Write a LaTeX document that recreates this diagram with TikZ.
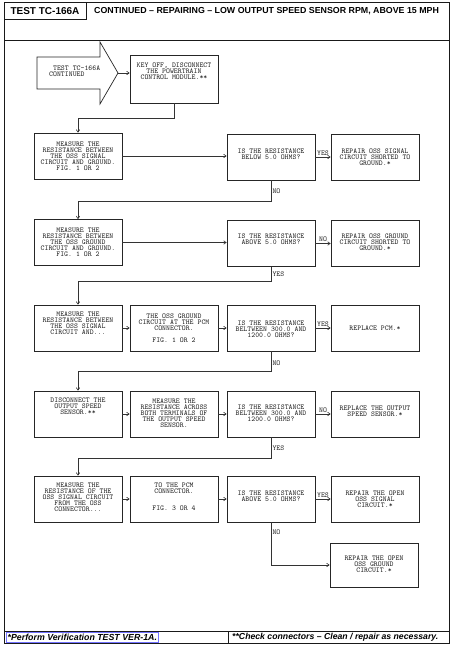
\documentclass[tikz,border=0pt]{standalone}
\usepackage{fontspec}
\setmainfont{Liberation Sans}
\usetikzlibrary{arrows.meta,calc}
\begin{document}
\begin{tikzpicture}[x=1pt,y=-1pt,
  box/.style={draw=black!85, line width=0.7pt, minimum width=88pt, minimum height=46pt, inner sep=0pt},
  txt/.style={font=\ttfamily\fontsize{7.4}{6.1}\selectfont, align=center, inner sep=0pt, text=black!85},
  arr/.style={draw=black!80, line width=0.6pt, -{Straight Barb[length=2.5pt,width=3.5pt]}},
  lab/.style={font=\ttfamily\fontsize{7.4}{6.1}\selectfont, inner sep=1.2pt, text=black!85},
  frame/.style={draw=black!90, line width=0.9pt}]
\useasboundingbox (0,0) rectangle (460,650);
\fill[white] (0,0) rectangle (460,650);
% frame, header, footer
\draw[frame] (4,2) rectangle (449,643);
\draw[frame] (4,2) rectangle (86,19);
\draw[frame] (4,40) -- (449,40);
\draw[frame] (4,631) -- (449,631);
\draw[frame] (228,631) -- (228,643);
\node[font=\bfseries\fontsize{10}{11}\selectfont, inner sep=0pt] (hd) at (45,11) {TEST TC-166A};
\node[font=\bfseries\fontsize{8.7}{9}\selectfont, inner sep=0pt, anchor=west] (title) at (94,11) {\scalebox{1.015}[1]{CONTINUED -- REPAIRING -- LOW OUTPUT SPEED SENSOR RPM, ABOVE 15 MPH}};
\draw[blue!55, line width=0.4pt] (6,632.5) rectangle (158,642);
\node[font=\bfseries\itshape\fontsize{8.8}{9}\selectfont, inner sep=0pt, anchor=west] (f1) at (7.5,637.5) {*Perform Verification TEST VER-1A.};
\node[font=\bfseries\itshape\fontsize{8.7}{9}\selectfont, inner sep=0pt, anchor=west] (f2) at (232,637.5) {**Check connectors -- Clean / repair as necessary.};
% start arrow
\draw[line width=0.7pt, draw=black!85] (37,57) -- (100,57) -- (100,42) -- (118,73) -- (100,104) -- (100,89) -- (37,89) -- cycle;
\coordinate (tip) at (118,73);
\node[txt, align=left, anchor=west] (st) at (49,71) {\ TEST TC-166A\\CONTINUED};
% boxes
\node[box, minimum height=48pt] (k) at (174,79) {};
\node[txt] (kt) at (174,71) {KEY OFF, DISCONNECT\\THE POWERTRAIN\\CONTROL MODULE.**};

\node[box] (m1) at (78,156) {};
\node[box] (q1) at (271,157) {};
\node[box] (r1) at (375,157) {};
\node[txt] (m1t) at (78,156) {MEASURE THE\\RESISTANCE BETWEEN\\THE OSS SIGNAL\\CIRCUIT AND GROUND.\\FIG. 1 OR 2};
\node[txt] (q1t) at (271,154) {IS THE RESISTANCE\\BELOW 5.0 OHMS?};
\node[txt] (r1t) at (375,157) {REPAIR OSS SIGNAL\\CIRCUIT SHORTED TO\\GROUND.*};

\node[box] (m2) at (78,242.5) {};
\node[box] (q2) at (271,243.5) {};
\node[box] (r2) at (375,243.5) {};
\node[txt] (m2t) at (78,242) {MEASURE THE\\RESISTANCE BETWEEN\\THE OSS GROUND\\CIRCUIT AND GROUND.\\FIG. 1 OR 2};
\node[txt] (q2t) at (271,239) {IS THE RESISTANCE\\ABOVE 5.0 OHMS?};
\node[txt] (r2t) at (375,242) {REPAIR OSS GROUND\\CIRCUIT SHORTED TO\\GROUND.*};

\node[box] (m3) at (78,328) {};
\node[box] (b3) at (174,328) {};
\node[box] (q3) at (271,328) {};
\node[box] (r3) at (375,328) {};
\node[txt] (m3t) at (78,323) {MEASURE THE\\RESISTANCE BETWEEN\\THE OSS SIGNAL\\CIRCUIT AND...};
\node[txt] (b3t) at (174,328.5) {THE OSS GROUND\\CIRCUIT AT THE PCM\\CONNECTOR.\\[6pt]FIG. 1 OR 2};
\node[txt] (q3t) at (271,329) {IS THE RESISTANCE\\BELTWEEN 300.0 AND\\1200.0 OHMS?};
\node[txt] (r3t) at (375,328) {REPLACE PCM.*};

\node[box] (m4) at (78,414) {};
\node[box] (b4) at (174,414) {};
\node[box] (q4) at (271,414) {};
\node[box] (r4) at (375,414) {};
\node[txt] (m4t) at (78,406) {DISCONNECT THE\\OUTPUT SPEED\\SENSOR.**};
\node[txt] (b4t) at (174,413) {MEASURE THE\\RESISTANCE ACROSS\\BOTH TERMINALS OF\\THE OUTPUT SPEED\\SENSOR.};
\node[txt] (q4t) at (271,413) {IS THE RESISTANCE\\BELTWEEN 300.0 AND\\1200.0 OHMS?};
\node[txt] (r4t) at (375,411) {REPLACE THE OUTPUT\\SPEED SENSOR.*};

\node[box] (m5) at (78,499) {};
\node[box] (b5) at (174,499) {};
\node[box] (q5) at (271,499) {};
\node[box] (r5) at (375,499) {};
\node[txt] (m5t) at (78,497) {MEASURE THE\\RESISTANCE OF THE\\OSS SIGNAL CIRCUIT\\FROM THE OSS\\CONNECTOR...};
\node[txt] (b5t) at (174,496.5) {TO THE PCM\\CONNECTOR.\\[11pt]FIG. 3 OR 4};
\node[txt] (q5t) at (271,496) {IS THE RESISTANCE\\ABOVE 5.0 OHMS?};
\node[txt] (r5t) at (375,499) {REPAIR THE OPEN\\OSS SIGNAL\\CIRCUIT.*};

\node[box, minimum height=44pt] (r6) at (374,565) {};
\node[txt] (r6t) at (374,564) {REPAIR THE OPEN\\OSS GROUND\\CIRCUIT.*};

% connectors
\draw[arr] (tip) -- (tip -| k.west);
\draw[arr] (k.south) -- ++(0,15) -| (m1.north);

\draw[arr] (m1.east) -- (m1.east -| q1.west);
\draw[arr] (q1.east) -- node[lab, above] (y1) {YES} (r1.west);
\draw[arr] (q1.south) -- ++(0,21) node[lab, right, pos=0.5] (n1) {NO} -| (m2.north);

\draw[arr] (m2.east) -- (m2.east -| q2.west);
\draw[arr] (q2.east) -- node[lab, above] (n2) {NO} (r2.west);
\draw[arr] (q2.south) -- ++(0,14) node[lab, right, pos=0.5] (y2) {YES} -| (m3.north);

\draw[arr] (m3.east) -- (b3.west);
\draw[arr] (b3.east) -- (q3.west);
\draw[arr] (q3.east) -- node[lab, above] (y3) {YES} (r3.west);
\draw[arr] (q3.south) -- ++(0,20) node[lab, right, pos=0.6] (n3) {NO} -| (m4.north);

\draw[arr] (m4.east) -- (b4.west);
\draw[arr] (b4.east) -- (q4.west);
\draw[arr] (q4.east) -- node[lab, above] (n4) {NO} (r4.west);
\draw[arr] (q4.south) -- ++(0,21) node[lab, right, pos=0.5] (y4) {YES} -| (m5.north);

\draw[arr] (m5.east) -- (b5.west);
\draw[arr] (b5.east) -- (q5.west);
\draw[arr] (q5.east) -- node[lab, above] (y5) {YES} (r5.west);
\draw[arr] (q5.south) |- node[lab, right, pos=0.12] (n5) {NO} (r6.west);
\end{tikzpicture}
\end{document}
